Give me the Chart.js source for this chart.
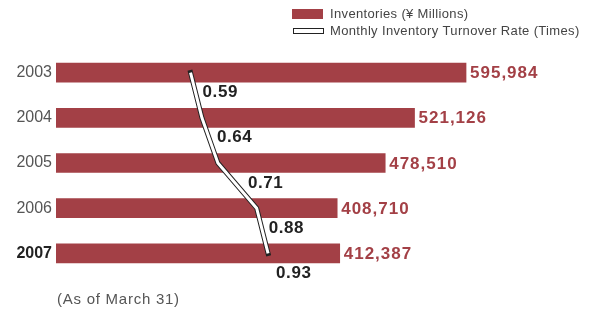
<!DOCTYPE html>
<html>
<head>
<meta charset="utf-8">
<script src="https://cdn.jsdelivr.net/npm/chart.js@4/dist/chart.umd.min.js"></script>
<style>
  html, body { margin: 0; padding: 0; background: #ffffff; }
  #wrap { width: 590px; height: 311px; }
</style>
</head>
<body>
<div id="wrap"><canvas id="c" width="590" height="311"></canvas></div>
<script>
// ---- data ----
const categories = ['2003', '2004', '2005', '2006', '2007'];
const inventories = [595984, 521126, 478510, 408710, 412387];
const turnoverRate = [0.59, 0.64, 0.71, 0.88, 0.93];
const legendLabels = ['Inventories (\u00A5 Millions)', 'Monthly Inventory Turnover Rate (Times)'];
const footnote = '(As of March 31)';

const BAR_COLOR = '#a34046';
const FONT = '"Liberation Sans", Arial, sans-serif';

const annotPlugin = {
  id: 'annot',
  afterDatasetsDraw(chart, args, opts) {
    const ctx = chart.ctx;
    ctx.save();
    // bar value labels
    const barMeta = chart.getDatasetMeta(0);
    ctx.font = 'bold 17px ' + FONT;
    ctx.letterSpacing = '1px';
    ctx.fillStyle = BAR_COLOR;
    ctx.textAlign = 'left';
    ctx.textBaseline = 'middle';
    barMeta.data.forEach((el, i) => {
      ctx.fillText(inventories[i].toLocaleString('en-US'), el.x + 4, el.y + 1);
    });
    // turnover labels
    const lineMeta = chart.getDatasetMeta(2);
    ctx.letterSpacing = '0.6px';
    ctx.fillStyle = '#222222';
    lineMeta.data.forEach((el, i) => {
      ctx.fillText(turnoverRate[i].toFixed(2), el.x + opts.dx[i], el.y + 20);
    });
    ctx.restore();
  },
  afterDraw(chart) {
    const ctx = chart.ctx;
    ctx.save();
    // legend
    ctx.fillStyle = BAR_COLOR;
    ctx.fillRect(292, 9, 31, 10);
    ctx.fillStyle = '#ffffff';
    ctx.strokeStyle = '#222222';
    ctx.lineWidth = 1;
    ctx.fillRect(293.5, 28.5, 30, 5);
    ctx.strokeRect(293.5, 28.5, 30, 5);
    ctx.font = '13px ' + FONT;
    ctx.letterSpacing = '0.35px';
    ctx.fillStyle = '#444444';
    ctx.textAlign = 'left';
    ctx.textBaseline = 'middle';
    ctx.fillText(legendLabels[0], 330, 14.5);
    ctx.fillText(legendLabels[1], 330, 31.5);
    // footnote
    ctx.font = '15px ' + FONT;
    ctx.letterSpacing = '0.75px';
    ctx.fillStyle = '#555555';
    ctx.fillText(footnote, 57, 300);
    ctx.restore();
  }
};

new Chart(document.getElementById('c'), {
  type: 'bar',
  data: {
    labels: categories,
    datasets: [
      {
        type: 'bar',
        label: legendLabels[0],
        data: inventories,
        backgroundColor: BAR_COLOR,
        borderWidth: 0,
        barThickness: 19,
        xAxisID: 'x',
        order: 3
      },
      {
        type: 'line',
        label: legendLabels[1] + ' outline',
        data: turnoverRate,
        indexAxis: 'y',
        xAxisID: 'x2',
        borderColor: '#222222',
        borderWidth: 5,
        borderCapStyle: 'square',
        pointRadius: 0,
        tension: 0,
        fill: false,
        order: 2
      },
      {
        type: 'line',
        label: legendLabels[1],
        data: turnoverRate,
        indexAxis: 'y',
        xAxisID: 'x2',
        borderColor: '#ffffff',
        borderWidth: 3,
        borderCapStyle: 'butt',
        pointRadius: 0,
        tension: 0,
        fill: false,
        order: 1
      }
    ]
  },
  options: {
    indexAxis: 'y',
    responsive: false,
    animation: false,
    devicePixelRatio: 1,
    layout: { padding: { top: 50, bottom: 35, left: 0, right: 52.4 } },
    plugins: {
      legend: { display: false },
      tooltip: { enabled: false },
      title: { display: false },
      annot: { dx: [12, 15, 30, 12, 8] }
    },
    scales: {
      x: { display: false, min: 0, max: 700000 },
      x2: { display: false, min: 0, max: 2.112, position: 'top' },
      y: {
        type: 'category',
        offset: true,
        border: { display: false },
        grid: { display: false, drawTicks: false },
        afterFit(scale) { scale.width = 56; },
        ticks: {
          padding: 4,
          font: (c) => ({ family: FONT, size: 16, weight: c.index === 4 ? 'bold' : 'normal' }),
          color: (c) => (c.index === 4 ? '#222222' : '#555555')
        }
      }
    }
  },
  plugins: [annotPlugin]
});
</script>
</body>
</html>
